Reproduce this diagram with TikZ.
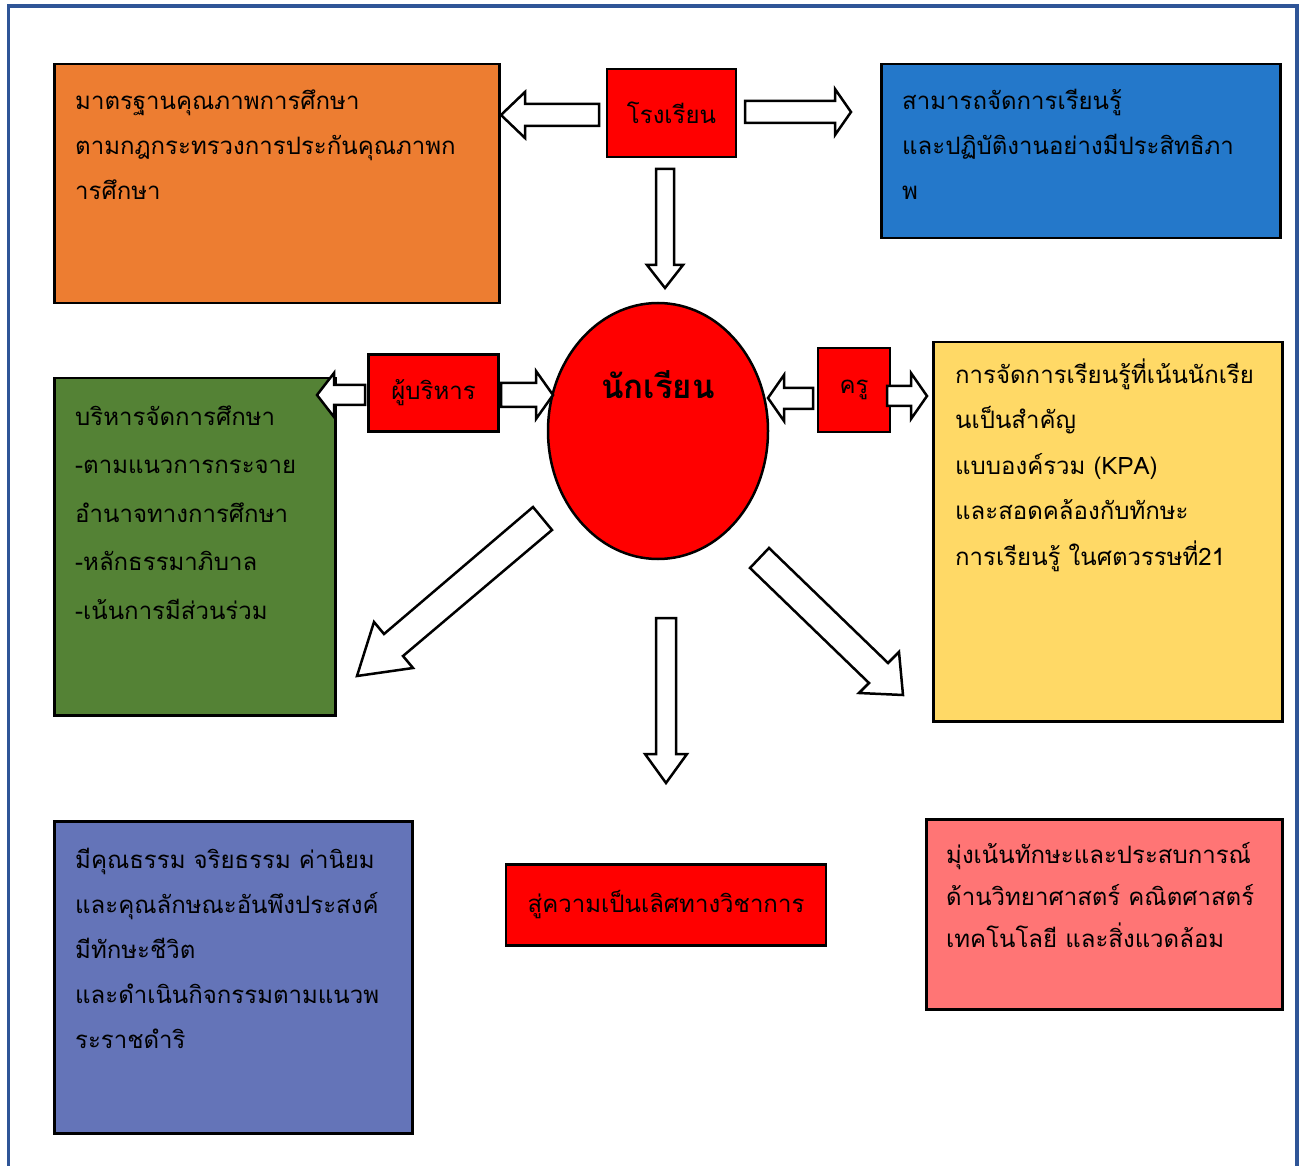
\documentclass[tikz,border=0pt]{standalone}
\usepackage{fontspec}
\newfontfamily\thai[Script=Thai]{Loma}
\usetikzlibrary{shapes.geometric}
\definecolor{framecol}{RGB}{47,85,151}
\definecolor{orangefill}{RGB}{237,125,49}
\definecolor{bluefill}{RGB}{36,120,202}
\definecolor{greenfill}{RGB}{84,130,53}
\definecolor{yellowfill}{RGB}{255,217,102}
\definecolor{purplefill}{RGB}{100,116,184}
\definecolor{pinkfill}{RGB}{255,117,117}
\definecolor{redfill}{RGB}{255,0,0}
\begin{document}
\begin{tikzpicture}[x=1pt,y=-1pt,
  panel/.style={draw=black, line width=2.5pt, rectangle, inner sep=0pt, anchor=north west},
  redbox/.style={draw=black, line width=2.5pt, rectangle, fill=redfill, inner sep=0pt,
    font=\thai\fontsize{24}{28}\selectfont},
  % anchored at the baseline of the last line
  boxtext/.style={anchor=base west, align=left, inner sep=0pt,
    font=\thai\fontsize{24}{45}\selectfont},
  barrow/.style={draw=black, fill=white, line width=2.5pt, line join=miter},
  frame/.style={draw=framecol, line width=3.5pt}]
\useasboundingbox (0,0) rectangle (1302,1166);

% page frame, open at the bottom
\draw[frame] (8.5,1170) -- (8.5,6) -- (1297,6) -- (1297,1170);

% coloured panels
\node[panel, fill=orangefill, minimum width=445, minimum height=239] (standard) at (53,63) {};
\node[panel, fill=bluefill, minimum width=399, minimum height=174] (manage) at (880,63) {};
\node[panel, fill=greenfill, minimum width=281, minimum height=337] (admin) at (53,377) {};
\node[panel, fill=yellowfill, minimum width=349, minimum height=379] (learning) at (932,341) {};
\node[panel, fill=purplefill, minimum width=358, minimum height=312] (virtue) at (53,820) {};
\node[panel, fill=pinkfill, minimum width=356, minimum height=190] (science) at (925,818) {};

% panel texts
\node[boxtext] (standardtext) at (75,200)
  {มาตรฐานคุณภาพการศึกษา\\ตามกฎกระทรวงการประกันคุณภาพก\\ารศึกษา};
\node[boxtext] (managetext) at (902,200)
  {สามารถจัดการเรียนรู้\\และปฏิบัติงานอย่างมีประสิทธิภา\\พ};
\node[boxtext, font=\thai\fontsize{24}{48.5}\selectfont] (admintext) at (75,619)
  {บริหารจัดการศึกษา\\-ตามแนวการกระจาย\\อำนาจทางการศึกษา\\-หลักธรรมาภิบาล\\-เน้นการมีส่วนร่วม};
\node[boxtext, font=\thai\fontsize{24}{45.5}\selectfont] (learningtext) at (955,565)
  {การจัดการเรียนรู้ที่เน้นนักเรีย\\นเป็นสำคัญ\\แบบองค์รวม (KPA)\\และสอดคล้องกับทักษะ\\การเรียนรู้ ในศตวรรษที่21};
\node[boxtext] (virtuetext) at (75,1048)
  {มีคุณธรรม จริยธรรม ค่านิยม\\และคุณลักษณะอันพึงประสงค์\\มีทักษะชีวิต\\และดำเนินกิจกรรมตามแนวพ\\ระราชดำริ};
\node[boxtext, font=\thai\fontsize{24}{42}\selectfont] (sciencetext) at (946,947)
  {มุ่งเน้นทักษะและประสบการณ์\\ด้านวิทยาศาสตร์ คณิตศาสตร์\\เทคโนโลยี และสิ่งแวดล้อม};

% red key boxes
\node[redbox, minimum width=129, minimum height=88] (school) at (671.5,113) {โรงเรียน};
\node[redbox, minimum width=130, minimum height=77] (director) at (433.5,393) {ผู้บริหาร};
\node[redbox, minimum width=72, minimum height=84] (teacher) at (854,390) {ครู};
\node[redbox, minimum width=320, minimum height=81] (excellence) at (666,905) {สู่ความเป็นเลิศทางวิชาการ};

% the student at the centre
\node[ellipse, draw=black, line width=2.5pt, fill=redfill, minimum width=220,
  minimum height=256, inner sep=0pt] (student) at (658,431) {};
\node[font=\thai\bfseries\fontsize{33}{38}\selectfont, inner sep=0pt]
  (studentlabel) at ([yshift=46pt]student.center) {นักเรียน};

% block arrows
\draw[barrow] (599,104) -- (525,104) -- (525,92) -- (501,115) -- (525,138) -- (525,126) -- (599,126) -- cycle;
\draw[barrow] (745,101) -- (835,101) -- (835,89) -- (851,112) -- (835,135) -- (835,123) -- (745,123) -- cycle;
\draw[barrow] (656,169) -- (656,265) -- (647,265) -- (665,288) -- (683,265) -- (674,265) -- (674,169) -- cycle;
\draw[barrow] (365,385) -- (334,385) -- (334,373) -- (317,395) -- (334,417) -- (334,405) -- (365,405) -- cycle;
\draw[barrow] (501,383) -- (536,383) -- (536,371) -- (553,395) -- (536,419) -- (536,407) -- (501,407) -- cycle;
\draw[barrow] (813,388) -- (784,388) -- (784,375) -- (768,398) -- (784,421) -- (784,409) -- (813,409) -- cycle;
\draw[barrow] (887,386) -- (911,386) -- (911,373) -- (927,396) -- (911,419) -- (911,406) -- (887,406) -- cycle;
\draw[barrow] (533,507) -- (552,530) -- (403,656) -- (413,668) -- (357,676) -- (374,622) -- (384,634) -- cycle;
\draw[barrow] (769,548) -- (888,663) -- (899,652) -- (903,695) -- (859,693) -- (869,683) -- (750,568) -- cycle;
\draw[barrow] (656,618) -- (656,754) -- (645,754) -- (666,783) -- (687,754) -- (676,754) -- (676,618) -- cycle;
\end{tikzpicture}
\end{document}
